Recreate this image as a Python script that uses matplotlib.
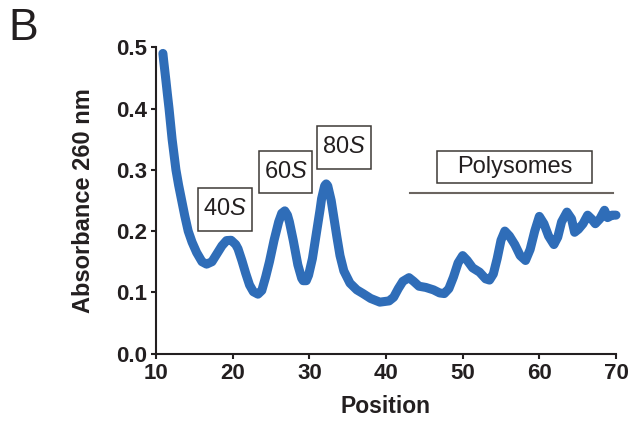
import matplotlib
matplotlib.use("Agg")
import matplotlib.pyplot as plt
from matplotlib.patches import Rectangle

plt.rcParams['font.family'] = ['Liberation Sans', 'DejaVu Sans']
plt.rcParams['mathtext.fontset'] = 'custom'
plt.rcParams['mathtext.rm'] = 'Liberation Sans'
plt.rcParams['mathtext.it'] = 'Liberation Sans:italic'

# absorbance trace
position = [10.9, 11.0, 11.3, 11.5, 11.7, 11.9, 12.1, 12.35, 12.6, 12.95,
            13.35, 13.75, 14.2, 14.7, 15.3, 16.0, 16.6, 17.3, 18.2, 18.6,
            19.2, 19.8, 20.4, 20.7, 21.2, 21.7, 22.2, 22.7, 23.3, 23.8,
            24.3, 24.8, 25.4, 26.0, 26.4, 26.8, 27.15, 27.4, 27.9, 28.5,
            29.0, 29.2, 29.6, 29.9, 30.4, 30.9, 31.4, 31.6, 32.0, 32.2,
            32.4, 32.85, 33.1, 33.6, 34.0, 34.5, 35.3, 36.2, 37.0, 38.0,
            39.2, 40.4, 41.0, 41.6, 42.2, 43.0, 43.6, 44.3, 45.2, 46.2,
            47.0, 47.6, 48.2, 48.8, 49.4, 50.0, 50.6, 51.3, 52.2, 53.0,
            53.5, 54.0, 54.5, 55.0, 55.5, 56.1, 56.8, 57.5, 58.2, 58.8,
            59.4, 60.0, 60.6, 61.2, 61.9, 62.4, 62.9, 63.6, 64.2, 64.6,
            65.1, 65.7, 66.3, 66.8, 67.3, 67.9, 68.5, 68.9, 69.5, 70.0]
absorbance = [0.490, 0.478, 0.445, 0.422, 0.400, 0.375, 0.350, 0.325, 0.300, 0.275,
              0.250, 0.225, 0.200, 0.182, 0.165, 0.150, 0.146, 0.150, 0.168, 0.176,
              0.1845, 0.185, 0.178, 0.171, 0.152, 0.131, 0.112, 0.101, 0.097, 0.103,
              0.125, 0.150, 0.185, 0.215, 0.229, 0.233, 0.226, 0.215, 0.185, 0.145,
              0.123, 0.119, 0.119, 0.128, 0.155, 0.195, 0.235, 0.253, 0.274, 0.277,
              0.274, 0.250, 0.230, 0.190, 0.160, 0.135, 0.115, 0.104, 0.098, 0.090,
              0.084, 0.086, 0.092, 0.106, 0.118, 0.124, 0.118, 0.110, 0.108, 0.104,
              0.099, 0.098, 0.106, 0.125, 0.148, 0.160, 0.152, 0.140, 0.133, 0.122,
              0.120, 0.130, 0.155, 0.185, 0.200, 0.192, 0.178, 0.160, 0.152, 0.170,
              0.200, 0.224, 0.212, 0.192, 0.178, 0.190, 0.215, 0.231, 0.220, 0.198,
              0.203, 0.212, 0.226, 0.220, 0.212, 0.220, 0.234, 0.222, 0.226, 0.226]

x_ticks = [10, 20, 30, 40, 50, 60, 70]
y_ticks = [0.0, 0.1, 0.2, 0.3, 0.4, 0.5]

# peak labels: text, (x0, x1, y0, y1) box in data units
peak_labels = ["40$\\mathit{S}$", "60$\\mathit{S}$", "80$\\mathit{S}$", "Polysomes"]
label_boxes = [(15.44, 22.48, 0.2005, 0.271),
               (23.43, 30.34, 0.262, 0.330),
               (30.95, 37.99, 0.302, 0.372),
               (46.6, 66.9, 0.278, 0.330)]
polysome_span = (43.1, 69.6, 0.262)

dark = '#231f20'
blue = '#2f6db8'

fig = plt.figure(figsize=(6.32, 4.26), dpi=100)
ax = fig.add_axes([156 / 632, 1 - 353.6 / 426, 460 / 632, (353.6 - 47.3) / 426])

ax.plot(position, absorbance, color=blue, lw=6.5, solid_capstyle='round',
        solid_joinstyle='round', clip_on=False, zorder=3)

ax.set_xlim(10, 70)
ax.set_ylim(0, 0.5)
ax.set_xticks(x_ticks)
ax.set_yticks(y_ticks)
ax.set_yticklabels([f"{v:.1f}" for v in y_ticks])

for s in ['top', 'right']:
    ax.spines[s].set_visible(False)
for s in ['left', 'bottom']:
    ax.spines[s].set_color(dark)
    ax.spines[s].set_linewidth(1.5)

ax.tick_params(axis='both', direction='out', length=3.5, width=1.5, color=dark,
               labelsize=16, labelcolor=dark)
ax.tick_params(axis='x', pad=3.5)
ax.tick_params(axis='y', pad=3)
for lab in ax.get_xticklabels() + ax.get_yticklabels():
    lab.set_fontweight('bold')

ax.set_xlabel("Position", fontsize=16.5, fontweight='bold', color=dark, labelpad=8)
ax.set_ylabel("Absorbance 260 nm", fontsize=17, fontweight='bold', color=dark, labelpad=15)

for txt, (x0, x1, y0, y1) in zip(peak_labels, label_boxes):
    ax.add_patch(Rectangle((x0, y0), x1 - x0, y1 - y0, fill=False,
                           edgecolor='#3d3935', lw=1.1, zorder=4))
    ax.text((x0 + x1) / 2, (y0 + y1) / 2, txt, ha='center', va='center',
            fontsize=17, color=dark, zorder=5)

ax.plot([polysome_span[0], polysome_span[1]], [polysome_span[2]] * 2,
        color='#6b6560', lw=1.5, zorder=4)

fig.text(8 / 632, 1 - 8 / 426, "B", fontsize=32, color=dark, ha='left', va='top')

fig.savefig("out.png", dpi=100)
